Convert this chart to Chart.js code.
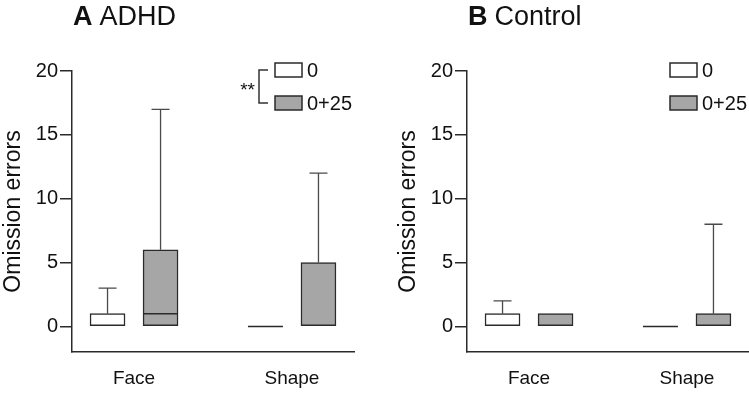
<!DOCTYPE html>
<html>
<head>
<meta charset="utf-8">
<script src="https://cdn.jsdelivr.net/npm/chart.js@4/dist/chart.umd.min.js"></script>
<style>
  html, body { margin:0; padding:0; background:#fff; width:749px; height:394px; overflow:hidden; }
  .panel { position:absolute; top:0; width:374px; height:394px; }
  .panel canvas { position:absolute; left:0; top:0; }
  .title { position:absolute; top:1px; left:73px; font-family:"Liberation Sans", Arial, sans-serif; font-size:27px; line-height:30px; color:#111; white-space:nowrap; }
  .title b { margin-right:7px; }
</style>
</head>
<body>
<div class="panel" id="pA" style="left:0px;">
  <canvas id="cA" width="374" height="394"></canvas>
  <div class="title"><b>A</b>ADHD</div>
</div>
<div class="panel" id="pB" style="left:395px;">
  <canvas id="cB" width="374" height="394"></canvas>
  <div class="title"><b>B</b>Control</div>
</div>
<script>
// ---- data ----
const categories = ['Face', 'Shape'];
const seriesLabels = ['0', '0+25'];
const yTickValues = [0, 5, 10, 15, 20];

// ADHD, dose 0
const adhd0Min = [0, 0];
const adhd0Q1 = [0, 0];
const adhd0Median = [0, 0];
const adhd0Q3 = [1, 0];
const adhd0Max = [3, 0];
// ADHD, dose 0+25
const adhd25Min = [0, 0];
const adhd25Q1 = [0, 0];
const adhd25Median = [1, 0];
const adhd25Q3 = [6, 5];
const adhd25Max = [17, 12];
// Control, dose 0
const ctrl0Min = [0, 0];
const ctrl0Q1 = [0, 0];
const ctrl0Median = [0, 0];
const ctrl0Q3 = [1, 0];
const ctrl0Max = [2, 0];
// Control, dose 0+25
const ctrl25Min = [0, 0];
const ctrl25Q1 = [0, 0];
const ctrl25Median = [0, 0];
const ctrl25Q3 = [1, 1];
const ctrl25Max = [1, 8];

// ---- layout / style ----
const FONT = '"Liberation Sans", Arial, sans-serif';
const catCenter = [22, 78];      // category centres on a 0..100 x scale
const groupOffset = 9.4;         // half distance between paired boxes
const fills = ['#ffffff', '#a6a6a6'];
const edge = '#2a2a2a';

function makeDataset(idx, q1, med, q3, mn, mx) {
  return {
    label: seriesLabels[idx],
    data: categories.map((c, i) => ({ x: catCenter[i] + (idx === 0 ? -groupOffset : groupOffset), y: [q1[i], q3[i]] })),
    stats: { min: mn, median: med, max: mx, q1: q1, q3: q3 },
    backgroundColor: fills[idx],
    borderColor: edge,
    borderWidth: 1.5,
    borderSkipped: false,
    barThickness: 35,
    grouped: false
  };
}

const boxExtras = {
  id: 'boxExtras',
  afterDatasetsDraw(chart) {
    const ctx = chart.ctx;
    const ys = chart.scales.y;
    ctx.save();
    chart.data.datasets.forEach((ds, di) => {
      const meta = chart.getDatasetMeta(di);
      meta.data.forEach((el, i) => {
        const x = el.x, w = el.width;
        const s = ds.stats;
        ctx.strokeStyle = '#4a4a4a';
        ctx.lineWidth = 1.3;
        if (s.max[i] > s.q3[i]) {
          const y0 = ys.getPixelForValue(s.q3[i]), y1 = ys.getPixelForValue(s.max[i]);
          ctx.beginPath(); ctx.moveTo(x, y0); ctx.lineTo(x, y1);
          ctx.moveTo(x - 9, y1); ctx.lineTo(x + 9, y1); ctx.stroke();
        }
        if (s.min[i] < s.q1[i]) {
          const y0 = ys.getPixelForValue(s.q1[i]), y1 = ys.getPixelForValue(s.min[i]);
          ctx.beginPath(); ctx.moveTo(x, y0); ctx.lineTo(x, y1);
          ctx.moveTo(x - 9, y1); ctx.lineTo(x + 9, y1); ctx.stroke();
        }
        // median: only when it is not already an edge of the box
        const m = s.median[i];
        if (s.q1[i] === s.q3[i] || (m > s.q1[i] && m < s.q3[i])) {
          ctx.strokeStyle = edge;
          ctx.lineWidth = 1.5;
          const ym = ys.getPixelForValue(m);
          ctx.beginPath(); ctx.moveTo(x - w / 2, ym); ctx.lineTo(x + w / 2, ym); ctx.stroke();
        }
      });
    });
    ctx.restore();
  }
};

const legendBox = {
  id: 'legendBox',
  afterDraw(chart, args, opts) {
    const ctx = chart.ctx;
    ctx.save();
    const rows = [70, 103];
    seriesLabels.forEach((lab, i) => {
      ctx.fillStyle = fills[i];
      ctx.strokeStyle = edge;
      ctx.lineWidth = 1.5;
      ctx.fillRect(275, rows[i] - 7, 27, 14);
      ctx.strokeRect(275, rows[i] - 7, 27, 14);
      ctx.fillStyle = '#111';
      ctx.font = '20px ' + FONT;
      ctx.textBaseline = 'middle';
      ctx.textAlign = 'left';
      ctx.fillText(lab, 307, rows[i] + 1);
    });
    if (opts.sig) {
      ctx.strokeStyle = '#333';
      ctx.lineWidth = 1.5;
      ctx.beginPath();
      ctx.moveTo(268, rows[0]); ctx.lineTo(259, rows[0]); ctx.lineTo(259, rows[1]); ctx.lineTo(268, rows[1]);
      ctx.stroke();
      ctx.fillStyle = '#111';
      ctx.font = '19px ' + FONT;
      ctx.textBaseline = 'alphabetic';
      ctx.textAlign = 'right';
      ctx.fillText(opts.sig, 255, 96);
    }
    ctx.restore();
  }
};

function build(canvasId, datasets, sig) {
  return new Chart(document.getElementById(canvasId), {
    type: 'bar',
    data: { datasets },
    plugins: [boxExtras, legendBox],
    options: {
      responsive: false,
      animation: false,
      events: [],
      layout: { padding: { left: 0, right: 20, top: 71, bottom: 0 } },
      plugins: { legend: { display: false }, tooltip: { enabled: false }, legendBox: { sig } },
      scales: {
        x: {
          type: 'linear', min: 0, max: 100, offset: false,
          afterBuildTicks: s => { s.ticks = catCenter.map(v => ({ value: v })); },
          afterFit: s => { s.height = 42; },
          grid: { display: false, drawTicks: false },
          border: { display: true, color: edge, width: 1.5 },
          ticks: { callback: (v, i) => categories[i], font: { family: FONT, size: 19 }, color: '#111', padding: 15, maxRotation: 0, autoSkip: false }
        },
        y: {
          min: -2, max: 20,
          afterBuildTicks: s => { s.ticks = yTickValues.map(v => ({ value: v })); },
          afterFit: s => { s.width = 72; },
          grid: { drawOnChartArea: false, tickLength: 12, color: edge, lineWidth: 1.5 },
          border: { display: true, color: edge, width: 1.5 },
          ticks: { font: { family: FONT, size: 20 }, color: '#111', padding: 2 },
          title: { display: true, text: 'Omission errors', font: { family: FONT, size: 23 }, color: '#111', padding: 0 }
        }
      }
    }
  });
}

build('cA', [
  makeDataset(0, adhd0Q1, adhd0Median, adhd0Q3, adhd0Min, adhd0Max),
  makeDataset(1, adhd25Q1, adhd25Median, adhd25Q3, adhd25Min, adhd25Max)
], '**');
build('cB', [
  makeDataset(0, ctrl0Q1, ctrl0Median, ctrl0Q3, ctrl0Min, ctrl0Max),
  makeDataset(1, ctrl25Q1, ctrl25Median, ctrl25Q3, ctrl25Min, ctrl25Max)
], null);
</script>
</body>
</html>
